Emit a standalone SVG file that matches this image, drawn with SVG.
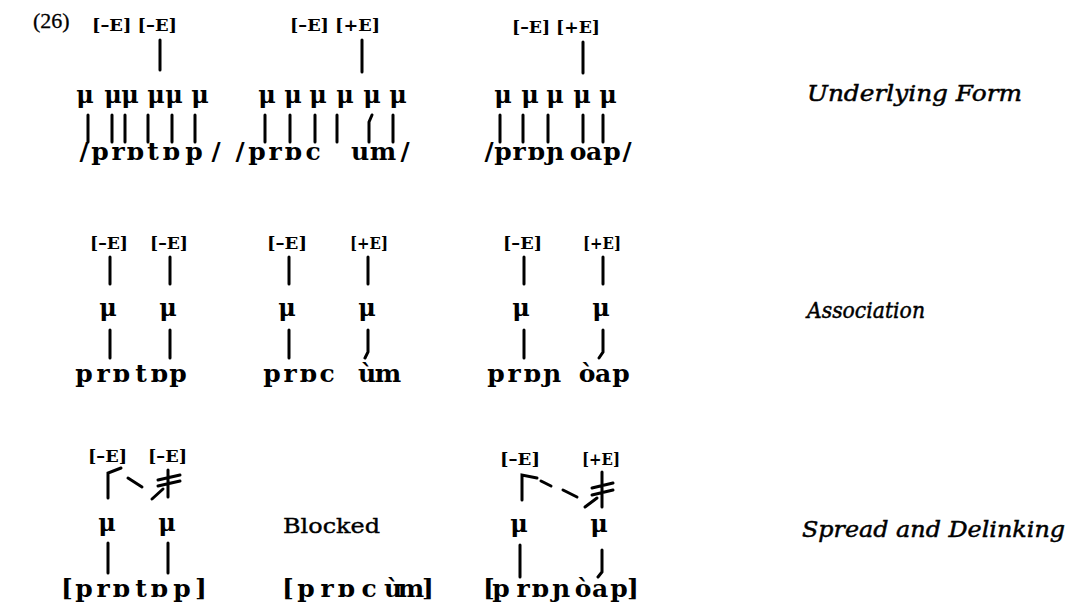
<svg xmlns="http://www.w3.org/2000/svg" width="1073" height="609" viewBox="0 0 1073 609">
  <style>
    .feat { font-family: "DejaVu Serif", "Liberation Serif", serif; font-size: 17px; font-weight: bold; fill: #000; }
    .mu { font-family: "DejaVu Serif", "Liberation Serif", serif; font-size: 24px; font-weight: bold; fill: #000; text-anchor: middle; }
    .seg { font-family: "DejaVu Serif", "Liberation Serif", serif; font-size: 25px; font-weight: bold; fill: #000; text-anchor: middle; }
    .lbl { font-family: "DejaVu Serif", "Liberation Serif", serif; font-size: 23px; font-style: italic; fill: #000; stroke: #000; stroke-width: 0.5; }
    .plain { font-family: "DejaVu Serif", "Liberation Serif", serif; font-size: 21px; fill: #000; stroke: #000; stroke-width: 0.4; }
    .num { font-family: "Liberation Serif", "Times New Roman", serif; font-size: 22px; fill: #000; stroke: #000; stroke-width: 0.3; }
    .assoc { stroke: #000; stroke-width: 3; stroke-linecap: round; fill: none; }
  </style>

  <text class="num" x="33" y="28">(26)</text>

  <!-- Underlying form -->
  <g id="uf-protop">
    <text class="feat" x="92" y="31" textLength="85" lengthAdjust="spacingAndGlyphs">[–E] [–E]</text>
    <text class="mu" x="85 113 130 156 174 200" y="103">μμμμμμ</text>
    <text class="seg" x="84 100 118 135 153 171 194 216" y="160">/prɒtɒp/</text>
  </g>
  <g id="uf-procum">
    <text class="feat" x="290" y="31" textLength="90" lengthAdjust="spacingAndGlyphs">[–E] [+E]</text>
    <text class="mu" x="267 293 318 345 372 398" y="103">μμμμμμ</text>
    <text class="seg" x="240 257 275 293 313 360 383 405" y="160">/prɒcum/</text>
  </g>
  <g id="uf-propoap">
    <text class="feat" x="512" y="33" textLength="88" lengthAdjust="spacingAndGlyphs">[–E] [+E]</text>
    <text class="mu" x="503 530 555 582 608" y="103">μμμμμ</text>
    <text class="seg" x="489 503 519 536 555 578 594 612 627" y="160">/prɒɲoap/</text>
  </g>

  <!-- Association -->
  <g id="as-protop">
    <text class="feat" x="90" y="249" textLength="38" lengthAdjust="spacingAndGlyphs">[–E]</text>
    <text class="feat" x="150" y="249" textLength="38" lengthAdjust="spacingAndGlyphs">[–E]</text>
    <text class="mu" x="108 168" y="316">μμ</text>
    <text class="seg" x="84 103 121 141 159 178" y="382">prɒtɒp</text>
  </g>
  <g id="as-procum">
    <text class="feat" x="267" y="249" textLength="40" lengthAdjust="spacingAndGlyphs">[–E]</text>
    <text class="feat" x="350" y="249" textLength="38" lengthAdjust="spacingAndGlyphs">[+E]</text>
    <text class="mu" x="287 367" y="316">μμ</text>
    <text class="seg" x="272 290 308 327 367 388" y="382">prɒcùm</text>
  </g>
  <g id="as-propoap">
    <text class="feat" x="503" y="249" textLength="39" lengthAdjust="spacingAndGlyphs">[–E]</text>
    <text class="feat" x="583" y="249" textLength="38" lengthAdjust="spacingAndGlyphs">[+E]</text>
    <text class="mu" x="521 601" y="316">μμ</text>
    <text class="seg" x="496 514 532 552 587 603 621" y="382">prɒɲòap</text>
  </g>

  <!-- Spread and delinking -->
  <g id="sd-protop">
    <text class="feat" x="88" y="462" textLength="39" lengthAdjust="spacingAndGlyphs">[–E]</text>
    <text class="feat" x="148" y="462" textLength="39" lengthAdjust="spacingAndGlyphs">[–E]</text>
    <text class="mu" x="107 167" y="531">μμ</text>
    <text class="seg" x="67 84 103 121 141 159 182 201" y="597">[prɒtɒp]</text>
  </g>
  <g id="sd-procum">
    <text class="plain" x="283" y="533" textLength="97" lengthAdjust="spacingAndGlyphs">Blocked</text>
    <text class="seg" x="288 306 327 346 369 393 411 428" y="597">[prɒcùm]</text>
  </g>
  <g id="sd-propoap">
    <text class="feat" x="500" y="465" textLength="40" lengthAdjust="spacingAndGlyphs">[–E]</text>
    <text class="feat" x="582" y="465" textLength="38" lengthAdjust="spacingAndGlyphs">[+E]</text>
    <text class="mu" x="519 599" y="532">μμ</text>
    <text class="seg" x="489 501 523 540 561 583 600 619 633" y="597">[prɒɲòap]</text>
  </g>

  <!-- Row labels -->
  <g id="label-uf"><text class="lbl" x="807" y="101" textLength="215" lengthAdjust="spacingAndGlyphs">Underlying Form</text></g>
  <g id="label-as"><text class="lbl" x="807" y="318" textLength="118" lengthAdjust="spacingAndGlyphs">Association</text></g>
  <g id="label-sd"><text class="lbl" x="802" y="537" textLength="263" lengthAdjust="spacingAndGlyphs">Spread and Delinking</text></g>

  <!-- Association lines -->
  <g id="connectors">
    <!-- underlying form -->
    <line class="assoc" x1="160" y1="40" x2="160" y2="70"/>
    <line class="assoc" x1="362" y1="40" x2="362" y2="72"/>
    <line class="assoc" x1="583" y1="42" x2="583" y2="73"/>
    <path class="assoc" d="M88 115V142 M112 115V142 M125 115V142 M148 115V142 M172 115V142 M195 115V142"/>
    <path class="assoc" d="M265 115V142 M290 115V142 M315 115V142 M337 115V142 M372 115L369 122V142 M393 115V142"/>
    <path class="assoc" d="M500 115V142 M523 115V142 M548 115V142 M583 115V142 M603 115V142"/>
    <!-- association -->
    <path class="assoc" d="M110 257V284 M170 257V284 M289 257V284 M368 257V284 M524 257V284 M603 257V284"/>
    <path class="assoc" d="M110 330V358 M170 330V358 M289 330V358 M368 330V352L365 358 M524 330V358 M603 330V352L599 358"/>
    <!-- spread and delinking: first column -->
    <path class="assoc" d="M108 498V473L121 468"/>
    <path class="assoc" d="M128 478L142 487 M152 499L163 489"/>
    <path class="assoc" d="M168 470V497 M158 480L180 475 M158 486L180 481"/>
    <!-- spread and delinking: third column -->
    <path class="assoc" d="M522 500V475L537 478"/>
    <path class="assoc" d="M541 481L551 486 M563 490L577 497 M585 507L597 498"/>
    <path class="assoc" d="M602 472V507 M592 488L613 483 M592 495L613 490"/>
    <!-- lower association lines -->
    <path class="assoc" d="M108 543V573 M168 543V573 M520 545V577 M602 550V572L598 577"/>
  </g>
</svg>
